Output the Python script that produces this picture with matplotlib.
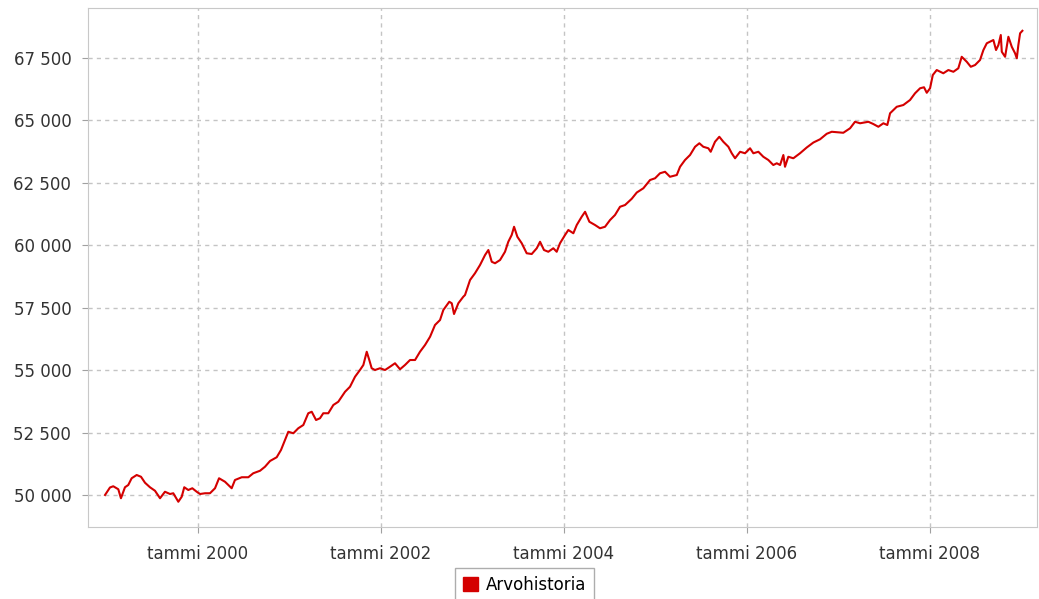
import numpy as np
import matplotlib
matplotlib.use('Agg')
import matplotlib.pyplot as plt
from matplotlib.ticker import FuncFormatter

# ---------- data (decimal year, value) ----------
years = [
    1998.984, 1999.038, 1999.074, 1999.129, 1999.158, 1999.202, 1999.238, 1999.275,
    1999.330, 1999.377, 1999.421, 1999.475, 1999.530, 1999.585, 1999.639, 1999.694,
    1999.730, 1999.785, 1999.822, 1999.850, 1999.894, 1999.938, 1999.986, 2000.022,
    2000.077, 2000.131, 2000.186, 2000.230, 2000.295, 2000.368, 2000.404, 2000.478,
    2000.550, 2000.604, 2000.678, 2000.732, 2000.787, 2000.860, 2000.907, 2000.951,
    2000.987, 2001.042, 2001.096, 2001.151, 2001.205, 2001.243, 2001.290, 2001.333,
    2001.369, 2001.424, 2001.479, 2001.533, 2001.607, 2001.661, 2001.716, 2001.770,
    2001.807, 2001.844, 2001.872, 2001.898, 2001.934, 2001.989, 2002.044, 2002.098,
    2002.153, 2002.208, 2002.262, 2002.317, 2002.372, 2002.426, 2002.481, 2002.536,
    2002.590, 2002.645, 2002.681, 2002.746, 2002.773, 2002.798, 2002.845, 2002.899,
    2002.918, 2002.973, 2003.027, 2003.082, 2003.137, 2003.173, 2003.210, 2003.246,
    2003.301, 2003.355, 2003.391, 2003.428, 2003.454, 2003.490, 2003.538, 2003.592,
    2003.647, 2003.702, 2003.738, 2003.781, 2003.828, 2003.883, 2003.920, 2003.956,
    2004.011, 2004.047, 2004.102, 2004.139, 2004.193, 2004.230, 2004.277, 2004.339,
    2004.393, 2004.448, 2004.503, 2004.557, 2004.612, 2004.667, 2004.740, 2004.795,
    2004.867, 2004.940, 2004.995, 2005.049, 2005.104, 2005.158, 2005.232, 2005.268,
    2005.322, 2005.377, 2005.432, 2005.479, 2005.522, 2005.577, 2005.603, 2005.650,
    2005.697, 2005.741, 2005.796, 2005.833, 2005.869, 2005.924, 2005.978, 2006.033,
    2006.069, 2006.124, 2006.178, 2006.233, 2006.287, 2006.325, 2006.361, 2006.397,
    2006.415, 2006.451, 2006.506, 2006.579, 2006.652, 2006.725, 2006.798, 2006.871,
    2006.926, 2007.052, 2007.126, 2007.180, 2007.235, 2007.326, 2007.380, 2007.435,
    2007.490, 2007.533, 2007.563, 2007.636, 2007.708, 2007.781, 2007.836, 2007.891,
    2007.934, 2007.964, 2008.000, 2008.030, 2008.073, 2008.145, 2008.200, 2008.255,
    2008.309, 2008.346, 2008.401, 2008.445, 2008.492, 2008.546, 2008.583, 2008.620,
    2008.692, 2008.721, 2008.747, 2008.773, 2008.784, 2008.820, 2008.856, 2008.893,
    2008.929, 2008.948, 2008.965, 2008.984, 2009.009,
]
values = [
    50000, 50300, 50350, 50230, 49870, 50310, 50400, 50670,
    50800, 50730, 50490, 50310, 50170, 49870, 50130, 50040,
    50070, 49730, 49930, 50310, 50200, 50270, 50130, 50040,
    50070, 50070, 50270, 50670, 50530, 50270, 50600, 50710,
    50710, 50870, 50970, 51130, 51360, 51510, 51800, 52200,
    52530, 52470, 52670, 52800, 53270, 53330, 53000, 53070,
    53270, 53270, 53600, 53730, 54130, 54330, 54730, 55000,
    55200, 55730, 55400, 55070, 55000, 55070, 55000, 55130,
    55270, 55030, 55200, 55400, 55400, 55730, 56000, 56330,
    56800, 57000, 57400, 57730, 57670, 57240, 57670, 57930,
    58000, 58600, 58870, 59200, 59600, 59800, 59330, 59270,
    59400, 59730, 60130, 60400, 60730, 60330, 60070, 59670,
    59640, 59870, 60130, 59800, 59730, 59870, 59730, 60070,
    60400, 60600, 60470, 60800, 61130, 61330, 60930, 60800,
    60670, 60730, 61000, 61200, 61530, 61600, 61850, 62100,
    62270, 62600, 62670, 62870, 62930, 62730, 62800, 63130,
    63400, 63600, 63930, 64070, 63930, 63870, 63730, 64130,
    64330, 64130, 63930, 63670, 63470, 63730, 63670, 63870,
    63670, 63730, 63530, 63400, 63200, 63270, 63200, 63600,
    63130, 63530, 63470, 63670, 63900, 64100, 64230, 64450,
    64530, 64490, 64670, 64930, 64870, 64930, 64840, 64730,
    64870, 64800, 65270, 65530, 65600, 65800, 66070, 66270,
    66310, 66090, 66270, 66800, 67000, 66870, 67000, 66930,
    67070, 67530, 67330, 67130, 67200, 67400, 67800, 68070,
    68200, 67800, 68000, 68400, 67730, 67530, 68330, 67930,
    67670, 67470, 68000, 68470, 68570,
]

tick_years = [2000, 2002, 2004, 2006, 2008]
tick_labels = ['tammi 2000', 'tammi 2002', 'tammi 2004', 'tammi 2006', 'tammi 2008']
y_ticks = [50000, 52500, 55000, 57500, 60000, 62500, 65000, 67500]

# ---------- figure ----------
fig = plt.figure(figsize=(10.39, 5.99), dpi=100)
ax = fig.add_axes([0.0847, 0.1202, 0.9134, 0.8664])

ax.plot(years, values, color='#d40000', linewidth=1.5, label='Arvohistoria')

ax.set_xlim(1998.798, 2009.169)
ax.set_ylim(48720, 69480)
ax.set_xticks(tick_years)
ax.set_xticklabels(tick_labels)
ax.set_yticks(y_ticks)
ax.yaxis.set_major_formatter(FuncFormatter(lambda v, p: f'{v:,.0f}'.replace(',', ' ')))

# grid and frame
ax.grid(True, color='#c4c4c4', linestyle=(0, (3, 3)), linewidth=1)
for s in ax.spines.values():
    s.set_color('#c8c8c8')
ax.tick_params(axis='both', colors='#a0a0a0', length=4, labelsize=12,
               labelcolor='#333333')
ax.tick_params(axis='x', pad=9)
ax.tick_params(axis='y', pad=8)

# legend below the plot
leg = fig.legend(loc='lower center', bbox_to_anchor=(0.505, -0.012), fontsize=12,
                 handlelength=0.9, handleheight=0.9, handletextpad=0.5,
                 frameon=True, fancybox=False, borderpad=0.45, borderaxespad=0.3,
                 handles=[plt.Rectangle((0, 0), 1, 1, color='#d40000')],
                 labels=['Arvohistoria'])
leg.get_frame().set_edgecolor('#999999')
leg.get_frame().set_linewidth(1)

plt.savefig('out.png', dpi=100)
